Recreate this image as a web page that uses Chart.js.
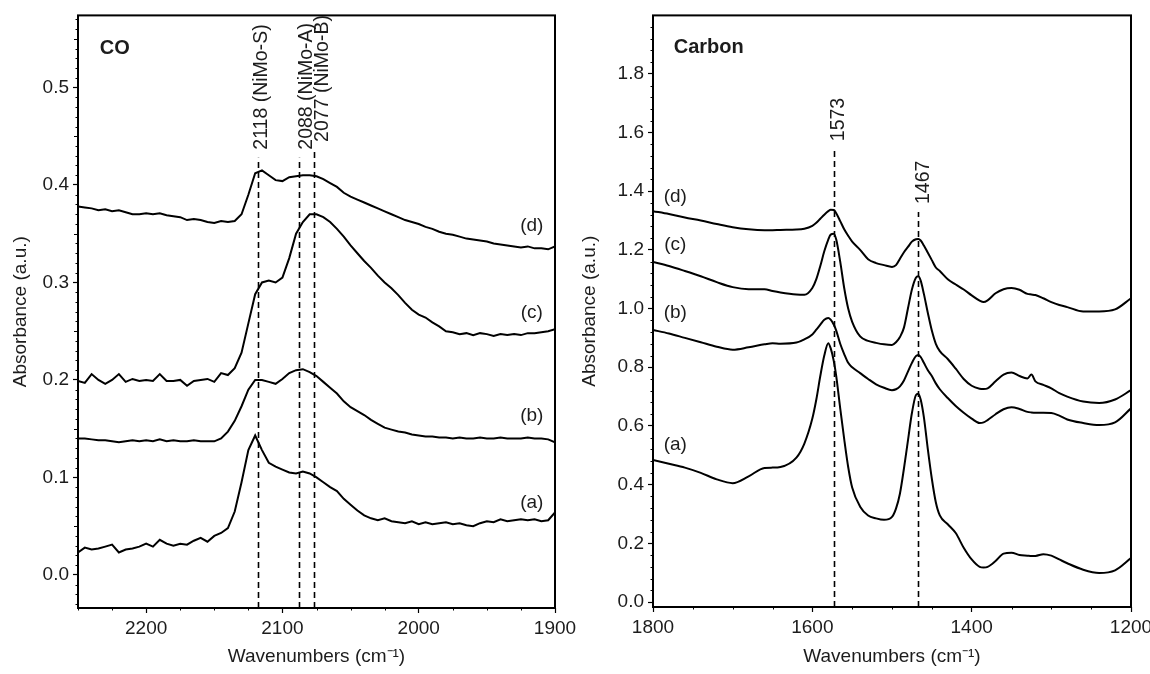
<!DOCTYPE html>
<html>
<head>
<meta charset="utf-8">
<script src="https://cdn.jsdelivr.net/npm/chart.js@4.4.1/dist/chart.umd.min.js"></script>
<style>
  html, body { margin: 0; padding: 0; background: #fff; overflow: hidden; }
  #wrap { position: relative; width: 1150px; height: 674px; overflow: hidden; }
  canvas { position: absolute; top: 0; }
  #coChart { left: 0; }
  #carbonChart { left: 560px; }
</style>
</head>
<body>
<div id="wrap">
  <canvas id="coChart" width="600" height="674"></canvas>
  <canvas id="carbonChart" width="620" height="674"></canvas>
</div>
<script>
// CO region spectra, (a)..(d)
const coWavenumbers = [2250, 2245, 2240, 2235, 2230, 2225, 2220, 2215, 2210, 2205,
  2200, 2195, 2190, 2185, 2180, 2175, 2170, 2165, 2160, 2155,
  2150, 2145, 2140, 2135, 2130, 2125, 2120, 2115, 2110, 2105,
  2100, 2095, 2090, 2085, 2080, 2075, 2070, 2065, 2060, 2055,
  2050, 2045, 2040, 2035, 2030, 2025, 2020, 2015, 2010, 2005,
  2000, 1995, 1990, 1985, 1980, 1975, 1970, 1965, 1960, 1955,
  1950, 1945, 1940, 1935, 1930, 1925, 1920, 1915, 1910, 1905, 1900];
const coA = [0.023, 0.028, 0.026, 0.027, 0.029, 0.031, 0.023, 0.026, 0.027, 0.029,
  0.032, 0.029, 0.036, 0.032, 0.030, 0.032, 0.031, 0.035, 0.038, 0.034,
  0.040, 0.043, 0.048, 0.065, 0.095, 0.128, 0.143, 0.128, 0.115, 0.111,
  0.108, 0.105, 0.104, 0.106, 0.104, 0.100, 0.095, 0.090, 0.086, 0.078,
  0.072, 0.066, 0.061, 0.058, 0.056, 0.058, 0.055, 0.054, 0.053, 0.055,
  0.052, 0.054, 0.052, 0.053, 0.054, 0.052, 0.053, 0.051, 0.050, 0.053,
  0.055, 0.054, 0.057, 0.055, 0.056, 0.057, 0.056, 0.057, 0.055, 0.056, 0.064];
const coB = [0.140, 0.140, 0.139, 0.138, 0.138, 0.137, 0.136, 0.137, 0.138, 0.137,
  0.138, 0.137, 0.139, 0.137, 0.138, 0.137, 0.137, 0.138, 0.137, 0.137,
  0.137, 0.140, 0.147, 0.158, 0.173, 0.190, 0.200, 0.200, 0.198, 0.196,
  0.201, 0.207, 0.210, 0.211, 0.208, 0.204, 0.198, 0.192, 0.186, 0.178,
  0.172, 0.168, 0.164, 0.159, 0.155, 0.151, 0.149, 0.147, 0.146, 0.144,
  0.143, 0.142, 0.142, 0.141, 0.141, 0.140, 0.141, 0.140, 0.140, 0.141,
  0.140, 0.140, 0.141, 0.140, 0.140, 0.140, 0.141, 0.140, 0.140, 0.139, 0.136];
const coC = [0.199, 0.197, 0.206, 0.200, 0.196, 0.200, 0.206, 0.198, 0.201, 0.199,
  0.200, 0.199, 0.206, 0.199, 0.199, 0.200, 0.194, 0.199, 0.200, 0.201,
  0.198, 0.207, 0.205, 0.212, 0.228, 0.258, 0.288, 0.300, 0.302, 0.300,
  0.305, 0.325, 0.350, 0.362, 0.370, 0.370, 0.367, 0.362, 0.355, 0.347,
  0.338, 0.330, 0.322, 0.315, 0.307, 0.300, 0.294, 0.287, 0.279, 0.272,
  0.267, 0.264, 0.259, 0.255, 0.250, 0.249, 0.247, 0.248, 0.246, 0.248,
  0.247, 0.245, 0.247, 0.246, 0.247, 0.246, 0.248, 0.248, 0.249, 0.250, 0.252];
const coD = [0.378, 0.377, 0.376, 0.374, 0.375, 0.373, 0.374, 0.372, 0.370, 0.370,
  0.371, 0.370, 0.371, 0.369, 0.368, 0.367, 0.364, 0.365, 0.364, 0.362,
  0.361, 0.363, 0.362, 0.363, 0.370, 0.390, 0.412, 0.415, 0.410, 0.405,
  0.404, 0.408, 0.409, 0.410, 0.410, 0.409, 0.406, 0.402, 0.398, 0.392,
  0.388, 0.385, 0.382, 0.379, 0.376, 0.373, 0.370, 0.367, 0.364, 0.362,
  0.360, 0.357, 0.355, 0.352, 0.350, 0.349, 0.347, 0.345, 0.344, 0.343,
  0.342, 0.340, 0.339, 0.338, 0.337, 0.336, 0.337, 0.335, 0.335, 0.334, 0.337];

// carbon region spectra, (a)..(d)
const carbonWavenumbers = [1800, 1780, 1760, 1740, 1720, 1700, 1680, 1660, 1650, 1640,
  1620, 1610, 1600, 1595, 1590, 1585, 1580, 1577, 1573, 1570,
  1565, 1560, 1555, 1550, 1540, 1530, 1520, 1510, 1500, 1495,
  1490, 1485, 1480, 1475, 1470, 1467, 1464, 1460, 1455, 1450,
  1445, 1440, 1430, 1420, 1410, 1400, 1390, 1385, 1380, 1370,
  1360, 1350, 1340, 1330, 1325, 1320, 1310, 1300, 1290, 1280,
  1260, 1240, 1220, 1200];
const carbonA = [0.484, 0.471, 0.458, 0.440, 0.418, 0.405, 0.428, 0.457, 0.458, 0.460,
  0.492, 0.540, 0.625, 0.690, 0.770, 0.840, 0.882, 0.865, 0.820, 0.770,
  0.660, 0.555, 0.460, 0.390, 0.325, 0.295, 0.285, 0.280, 0.290, 0.318,
  0.370, 0.455, 0.550, 0.644, 0.705, 0.710, 0.690, 0.630, 0.520, 0.420,
  0.340, 0.295, 0.265, 0.235, 0.185, 0.145, 0.120, 0.118, 0.120, 0.140,
  0.165, 0.168, 0.160, 0.158, 0.157, 0.157, 0.163, 0.158, 0.145, 0.132,
  0.110, 0.099, 0.108, 0.150];
const carbonB = [0.927, 0.915, 0.900, 0.885, 0.870, 0.860, 0.868, 0.878, 0.882, 0.880,
  0.884, 0.895, 0.912, 0.928, 0.945, 0.962, 0.968, 0.962, 0.945, 0.925,
  0.880, 0.845, 0.815, 0.800, 0.780, 0.760, 0.742, 0.730, 0.722, 0.725,
  0.735, 0.755, 0.785, 0.815, 0.838, 0.842, 0.835, 0.815, 0.790, 0.770,
  0.745, 0.725, 0.695, 0.668, 0.645, 0.625, 0.610, 0.612, 0.620, 0.640,
  0.657, 0.664, 0.658, 0.648, 0.646, 0.645, 0.645, 0.644, 0.635, 0.622,
  0.610, 0.603, 0.612, 0.660];
const carbonC = [1.159, 1.145, 1.128, 1.110, 1.090, 1.073, 1.066, 1.066, 1.060, 1.055,
  1.048, 1.047, 1.070, 1.100, 1.145, 1.195, 1.235, 1.252, 1.255, 1.235,
  1.160, 1.070, 1.000, 0.955, 0.905, 0.890, 0.883, 0.878, 0.876, 0.885,
  0.903, 0.935, 1.000, 1.065, 1.105, 1.110, 1.095, 1.050, 0.985, 0.925,
  0.880, 0.855, 0.828, 0.795, 0.760, 0.737, 0.727, 0.726, 0.728, 0.752,
  0.775, 0.782, 0.770, 0.762, 0.775, 0.752, 0.740, 0.728, 0.712, 0.700,
  0.683, 0.678, 0.690, 0.722];
const carbonD = [1.332, 1.322, 1.310, 1.300, 1.288, 1.277, 1.270, 1.267, 1.267, 1.268,
  1.269, 1.272, 1.282, 1.292, 1.306, 1.320, 1.332, 1.337, 1.336, 1.325,
  1.298, 1.270, 1.248, 1.228, 1.200, 1.168, 1.155, 1.148, 1.142, 1.148,
  1.170, 1.192, 1.210, 1.228, 1.236, 1.237, 1.232, 1.215, 1.190, 1.165,
  1.140, 1.128, 1.100, 1.082, 1.065, 1.045, 1.027, 1.022, 1.028, 1.052,
  1.066, 1.070, 1.064, 1.050, 1.048, 1.046, 1.035, 1.022, 1.012, 1.005,
  0.990, 0.990, 0.997, 1.035];

const curveNames = ['(a)', '(b)', '(c)', '(d)'];

// band positions marked with dashed lines
const coBands = [2118, 2088, 2077];
const coBandLabels = ['2118 (NiMo-S)', '2088 (NiMo-A)', '2077 (NiMo-B)'];
const carbonBands = [1573, 1467];
const carbonBandLabels = ['1573', '1467'];

const FONT = "'Liberation Sans', Arial, Helvetica, sans-serif";
const INK = '#1c1c1c';

function toPoints(xs, ys) {
  return xs.map((w, i) => ({ x: w, y: ys[i] }));
}

// frame, minor ticks, band markers and in-plot text
const panelDecor = {
  id: 'panelDecor',
  afterDatasetsDraw(chart, args, o) {
    const { ctx, chartArea: a, scales: { x, y } } = chart;
    ctx.save();

    // dashed band markers with rotated labels
    o.bands.forEach((w, i) => {
      const px = Math.round(x.getPixelForValue(w)) + 0.5;
      const top = y.getPixelForValue(o.bandTops[i]);
      ctx.strokeStyle = '#000';
      ctx.lineWidth = 1.6;
      ctx.setLineDash([6, 4]);
      ctx.beginPath();
      ctx.moveTo(px, a.bottom);
      ctx.lineTo(px, top);
      ctx.stroke();
      ctx.setLineDash([]);
      ctx.save();
      ctx.translate(px + o.bandShift[i], top - 8);
      ctx.rotate(-Math.PI / 2);
      ctx.fillStyle = INK;
      ctx.font = '19.5px ' + FONT;
      ctx.textAlign = 'left';
      ctx.textBaseline = 'middle';
      ctx.fillText(o.bandLabels[i], 0, 0);
      ctx.restore();
    });

    // curve labels
    ctx.fillStyle = INK;
    ctx.font = '19px ' + FONT;
    ctx.textAlign = 'center';
    ctx.textBaseline = 'middle';
    o.curveLabelAt.forEach((p, i) => {
      ctx.fillText(curveNames[i], x.getPixelForValue(p[0]), y.getPixelForValue(p[1]));
    });

    // panel name
    ctx.font = 'bold 20px ' + FONT;
    ctx.textAlign = 'left';
    ctx.fillText(o.name, x.getPixelForValue(o.nameAt[0]), y.getPixelForValue(o.nameAt[1]));
    ctx.restore();
  },
  afterDraw(chart, args, o) {
    const { ctx, chartArea: a, scales: { x, y } } = chart;
    ctx.save();
    ctx.strokeStyle = '#000';

    // minor ticks on both axes
    ctx.lineWidth = 1;
    const minorTicks = (scale, step, major, mid, draw) => {
      const k0 = Math.ceil(scale.min / step - 1e-9);
      const k1 = Math.floor(scale.max / step + 1e-9);
      for (let k = k0; k <= k1; k++) {
        const v = k * step;
        const r = v / major;
        if (Math.abs(r - Math.round(r)) < 1e-6) continue;
        let len = 2.5;
        if (mid) {
          const m = v / mid;
          if (Math.abs(m - Math.round(m)) < 1e-6) len = 4;
        }
        draw(Math.round(scale.getPixelForValue(v)) + 0.5, len);
      }
    };
    ctx.beginPath();
    minorTicks(y, o.minorY, o.majorY, o.midY, (py, len) => {
      ctx.moveTo(a.left, py);
      ctx.lineTo(a.left - len, py);
    });
    minorTicks(x, o.minorX, o.majorX, null, (px, len) => {
      ctx.moveTo(px, a.bottom);
      ctx.lineTo(px, a.bottom + len);
    });
    ctx.stroke();

    // plot frame
    ctx.lineWidth = 2;
    ctx.strokeRect(a.left, a.top, a.right - a.left, a.bottom - a.top);
    ctx.restore();
  }
};

function lineSet(data, smooth) {
  return {
    data: data,
    borderColor: '#000',
    borderWidth: 2,
    pointRadius: 0,
    fill: false,
    tension: 0,
    cubicInterpolationMode: smooth ? 'monotone' : 'default'
  };
}

function makePanel(canvasId, cfg) {
  return new Chart(document.getElementById(canvasId), {
    type: 'line',
    data: {
      datasets: cfg.series.map(s => lineSet(toPoints(cfg.xs, s), cfg.smooth))
    },
    options: {
      responsive: false,
      animation: false,
      layout: { padding: { left: 0, top: 14, right: cfg.padRight, bottom: 0 } },
      plugins: {
        legend: { display: false },
        tooltip: { enabled: false },
        panelDecor: cfg.decor
      },
      scales: {
        x: {
          type: 'linear',
          reverse: true,
          min: cfg.xMin,
          max: cfg.xMax,
          afterFit: s => { s.height = cfg.xAxisHeight; },
          border: { display: false },
          grid: { display: true, drawOnChartArea: false, drawTicks: true, tickLength: 5, color: '#000', tickWidth: 1.2 },
          ticks: {
            stepSize: cfg.xStep,
            includeBounds: false,
            maxRotation: 0,
            autoSkip: false,
            padding: 4,
            color: INK,
            font: { family: FONT, size: 19 },
            callback: v => String(v)
          },
          title: {
            display: true,
            text: 'Wavenumbers (cm⁻¹)',
            color: INK,
            font: { family: FONT, size: 19 },
            padding: { top: 0, bottom: 6 }
          }
        },
        y: {
          type: 'linear',
          min: cfg.yMin,
          max: cfg.yMax,
          afterFit: s => { s.width = cfg.yAxisWidth; },
          border: { display: false },
          grid: { display: true, drawOnChartArea: false, drawTicks: true, tickLength: 5, color: '#000', tickWidth: 1.2 },
          ticks: {
            stepSize: cfg.yStep,
            includeBounds: false,
            autoSkip: false,
            padding: 4,
            color: INK,
            font: { family: FONT, size: 19 },
            callback: v => v.toFixed(1)
          },
          title: {
            display: true,
            text: 'Absorbance (a.u.)',
            color: INK,
            font: { family: FONT, size: 19 },
            padding: { top: cfg.yTitlePad, bottom: 0 }
          }
        }
      }
    },
    plugins: [panelDecor]
  });
}

makePanel('coChart', {
  xs: coWavenumbers,
  series: [coA, coB, coC, coD],
  smooth: false,
  xMin: 1900, xMax: 2250, xStep: 100,
  yMin: -0.034, yMax: 0.574, yStep: 0.1,
  padRight: 45, xAxisHeight: 66, yAxisWidth: 78, yTitlePad: 9.5,
  decor: {
    name: 'CO', nameAt: [2234, 0.54],
    bands: coBands, bandLabels: coBandLabels,
    bandTops: [0.428, 0.428, 0.436], bandShift: [3, 7, 8],
    curveLabelAt: [[1917, 0.074], [1917, 0.163], [1917, 0.269], [1917, 0.358]],
    minorY: 0.01, midY: 0.05, majorY: 0.1,
    minorX: 25, majorX: 100
  }
});

makePanel('carbonChart', {
  xs: carbonWavenumbers,
  series: [carbonA, carbonB, carbonC, carbonD],
  smooth: true,
  xMin: 1200, xMax: 1800, xStep: 200,
  yMin: -0.017, yMax: 1.999, yStep: 0.2,
  padRight: 49, xAxisHeight: 67, yAxisWidth: 93, yTitlePad: 18.5,
  decor: {
    name: 'Carbon', nameAt: [1774, 1.891],
    bands: carbonBands, bandLabels: carbonBandLabels,
    bandTops: [1.543, 1.329], bandShift: [4, 5],
    curveLabelAt: [[1772, 0.535], [1772, 0.985], [1772, 1.216], [1772, 1.38]],
    minorY: 0.04, midY: null, majorY: 0.2,
    minorX: 50, majorX: 200
  }
});
</script>
</body>
</html>
